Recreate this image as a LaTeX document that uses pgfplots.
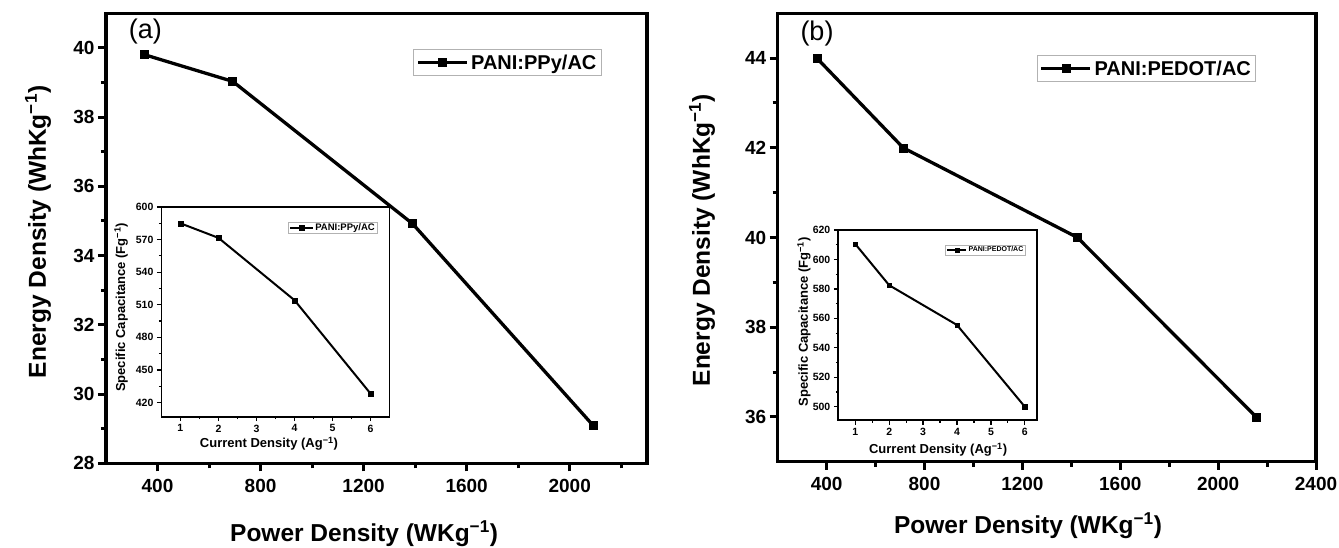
\documentclass[border=0pt]{standalone}
\usepackage{fontspec}
\setmainfont{Liberation Sans}
\usepackage{pgfplots}
\pgfplotsset{compat=1.18}
\newcommand{\fs}[1]{\fontsize{#1}{#1}\selectfont}

\pgfplotsset{
  mainax/.style={
    scale only axis,
    axis line style={line width=3.2pt},
    tick align=outside, tick pos=left,
    major tick length=8pt, minor tick length=5pt,
    tick style={line width=3pt, black},
    tick label style={font=\bfseries\fs{19}},
    xticklabel style={yshift=-4pt},
    label style={font=\bfseries\fs{24.5}},
    /pgf/number format/assume math mode=true,
    /pgf/number format/1000 sep={},
    legend style={draw=gray!60, line width=1.2pt, inner xsep=2.5pt, inner ysep=3.5pt,
      nodes={inner xsep=2.5pt, inner ysep=1.5pt}, font=\bfseries\fs{20}, anchor=north west,
      legend cell align=left},
    legend image code/.code={\draw[mark repeat=2,mark phase=2,##1] plot coordinates {(0pt,0pt)(24.5pt,0pt)(49pt,0pt)};},
  },
  insetax/.style={
    scale only axis,
    axis background/.style={fill=white},
    axis line style={line width=1.7pt},
    tick align=outside, tick pos=left,
    major tick length=4.5pt, minor tick length=2.5pt,
    tick style={line width=1.2pt, black},
    tick label style={font=\bfseries\fs{10.5}},
    label style={font=\bfseries\fs{13}},
    /pgf/number format/assume math mode=true,
    /pgf/number format/1000 sep={},
    legend style={draw=gray!60, line width=0.8pt, inner xsep=1pt, inner ysep=1pt,
      nodes={inner xsep=1.2pt, inner ysep=0.5pt}, anchor=north west, legend cell align=left},
  },
  mainline/.style={black, line width=3.3pt, mark=square*, mark size=4pt, mark options={solid, line width=0.5pt}},
}

\begin{document}
\begin{tikzpicture}[x=1pt,y=1pt]
\useasboundingbox (0,0) rectangle (1339,547);

% ---------- Panel (a) main ----------
\begin{axis}[mainax,
  at={(106pt,83.7pt)}, anchor=south west,
  width=541pt, height=450.1pt,
  xmin=200, xmax=2300, ymin=28, ymax=41,
  xtick={400,800,1200,1600,2000},
  minor xtick={600,1000,1400,1800,2200},
  ytick={28,30,32,34,36,38,40},
  minor ytick={29,31,33,35,37,39},
  xlabel={Power Density (WKg\textsuperscript{−1})},
  ylabel={Energy Density (WhKg\textsuperscript{−1})},
  xlabel style={at={(axis description cs:0.477,-0.174)}, anchor=base},
  ylabel style={at={(axis description cs:-0.111,0.514)}, anchor=base},
  legend style={at={(axis description cs:0.568,0.9205)}},
]
\addplot[mainline] coordinates {(350,39.8) (692,39.03) (1390,34.92) (2090,29.1)};
\addlegendentry{PANI:PPy/AC}
\node[font=\fs{27}] at (axis description cs:0.073,0.959) {(a)};
\end{axis}

% ---------- Panel (a) inset ----------
\begin{axis}[insetax,
  at={(161.4pt,130.3pt)}, anchor=south west,
  width=228.2pt, height=209.7pt,
  xmin=0.5, xmax=6.5, ymin=407, ymax=600,
  xtick={1,2,3,4,5,6},
  minor xtick={1.5,2.5,3.5,4.5,5.5},
  ytick={420,450,480,510,540,570,600},
  minor ytick={435,465,495,525,555,585},
  xlabel={Current Density (Ag\textsuperscript{−1})},
  ylabel={Specific Capacitance (Fg\textsuperscript{−1})},
  xlabel style={at={(axis description cs:0.4715,-0.148)}, anchor=base},
  ylabel style={at={(axis description cs:-0.1595,0.521)}, anchor=base},
  legend style={at={(axis description cs:0.5535,0.930)}, font=\bfseries\fs{9.5}},
  legend image code/.code={\draw[mark repeat=2,mark phase=2,#1] plot coordinates {(0pt,0pt)(11.5pt,0pt)(23pt,0pt)};},
]
\addplot[black, line width=2pt, mark=square*, mark size=2.5pt, mark options={solid, line width=0.3pt}]
  coordinates {(1,585) (2,571.6) (4,514.2) (6,428.2)};
\addlegendentry{PANI:PPy/AC}
\end{axis}

% ---------- Panel (b) main ----------
\begin{axis}[mainax,
  at={(777.7pt,85.3pt)}, anchor=south west,
  width=538.3pt, height=448.4pt,
  xmin=200, xmax=2400, ymin=35, ymax=45,
  xtick={400,800,1200,1600,2000,2400},
  minor xtick={600,1000,1400,1800,2200},
  ytick={36,38,40,42,44},
  minor ytick={37,39,41,43},
  xlabel={Power Density (WKg\textsuperscript{−1})},
  ylabel={Energy Density (WhKg\textsuperscript{−1})},
  xlabel style={at={(axis description cs:0.465,-0.1597)}, anchor=base},
  ylabel style={at={(axis description cs:-0.1258,0.494)}, anchor=base},
  legend style={at={(axis description cs:0.4811,0.907)}},
]
\addplot[mainline] coordinates {(360,44.0) (713,42.0) (1425,40.0) (2155,36.0)};
\addlegendentry{PANI:PEDOT/AC}
\node[font=\fs{27}] at (axis description cs:0.073,0.9554) {(b)};
\end{axis}

% ---------- Panel (b) inset ----------
\begin{axis}[insetax,
  at={(838.3pt,127pt)}, anchor=south west,
  width=198.4pt, height=190pt,
  xmin=0.5, xmax=6.35, ymin=491, ymax=620,
  xtick={1,2,3,4,5,6},
  minor xtick={1.5,2.5,3.5,4.5,5.5},
  ytick={500,520,540,560,580,600,620},
  minor ytick={510,530,550,570,590,610},
  xlabel={Current Density (Ag\textsuperscript{−1})},
  ylabel={Specific Capacitance (Fg\textsuperscript{−1})},
  xlabel style={at={(axis description cs:0.503,-0.176)}, anchor=base},
  ylabel style={at={(axis description cs:-0.153,0.517)}, anchor=base},
  legend style={at={(axis description cs:0.538,0.921)}, font=\bfseries\fs{7}},
  legend image code/.code={\draw[mark repeat=2,mark phase=2,#1] plot coordinates {(0pt,0pt)(9.5pt,0pt)(19pt,0pt)};},
]
\addplot[black, line width=2pt, mark=square*, mark size=2.2pt, mark options={solid, line width=0.3pt}]
  coordinates {(1,610.5) (2,582.5) (4,555.5) (6,500)};
\addlegendentry{PANI:PEDOT/AC}
\end{axis}
\end{tikzpicture}
\end{document}
